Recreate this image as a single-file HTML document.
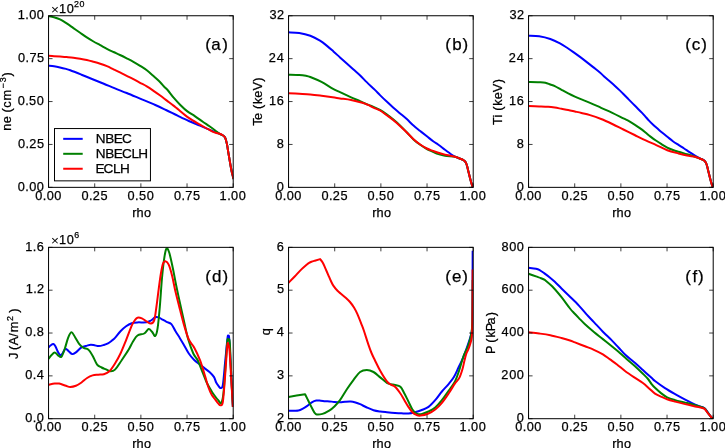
<!DOCTYPE html><html><head><meta charset="utf-8"><title>Plasma profiles</title><style>html,body{margin:0;padding:0;background:#fff;}svg{display:block;will-change:transform;filter:blur(0.35px);}text{font-family:"Liberation Sans",sans-serif;fill:#000;stroke:#000;stroke-width:0.25px;}</style></head><body>
<svg width="725" height="448" viewBox="0 0 725 448">
<rect width="725" height="448" fill="#fff"/>
<defs><clipPath id="cp0"><rect x="48.55" y="15.75" width="184.65" height="171.6"/></clipPath><clipPath id="cp1"><rect x="288.55" y="15.75" width="184.65" height="171.6"/></clipPath><clipPath id="cp2"><rect x="528.55" y="15.75" width="184.65" height="171.6"/></clipPath><clipPath id="cp3"><rect x="48.55" y="247.35" width="184.65" height="171.35"/></clipPath><clipPath id="cp4"><rect x="288.55" y="247.35" width="184.65" height="171.35"/></clipPath><clipPath id="cp5"><rect x="528.55" y="247.35" width="184.65" height="171.35"/></clipPath></defs>
<g clip-path="url(#cp0)" fill="none" stroke-width="2" stroke-linejoin="round" stroke-linecap="butt"><path d="M48.5,65.8C49.42,65.88 52.08,66.03 54,66.3C55.92,66.57 58,66.97 60,67.4C62,67.83 64.28,68.42 66,68.9C67.72,69.38 67.72,69.33 70.3,70.3C72.88,71.27 77.78,73.22 81.5,74.7C85.22,76.18 88.88,77.7 92.6,79.2C96.32,80.7 100.07,82.17 103.8,83.7C107.53,85.23 111.18,86.85 115,88.4C118.82,89.95 122.52,91.3 126.7,93C130.88,94.7 135.33,96.6 140.1,98.6C144.87,100.6 150.98,103.1 155.3,105C159.62,106.9 162.28,108.22 166,110C169.72,111.78 173.8,113.87 177.6,115.7C181.4,117.53 185.07,119.33 188.8,121C192.53,122.67 195.9,123.98 200,125.7C204.1,127.42 210.13,129.95 213.4,131.3C216.67,132.65 217.98,133.1 219.6,133.8C221.22,134.5 222.22,134.92 223.1,135.5C223.98,136.08 224.42,136.52 224.9,137.3C225.38,138.08 225.62,138.85 226,140.2C226.38,141.55 226.82,143.37 227.2,145.4C227.58,147.43 227.92,150.08 228.3,152.4C228.68,154.72 229.1,156.98 229.5,159.3C229.9,161.62 230.32,164.17 230.7,166.3C231.08,168.43 231.42,170.37 231.8,172.1C232.18,173.83 232.7,175.55 233,176.7C233.3,177.85 233.5,178.62 233.6,179" stroke="#0000ff"/><path d="M48.5,16.2C49.42,16.38 52.08,16.78 54,17.3C55.92,17.82 57.88,18.28 60,19.3C62.12,20.32 64.47,21.93 66.7,23.4C68.93,24.87 71.17,26.53 73.4,28.1C75.63,29.67 77.87,31.25 80.1,32.8C82.33,34.35 84.57,35.95 86.8,37.4C89.03,38.85 91.27,40.22 93.5,41.5C95.73,42.78 97.97,43.88 100.2,45.1C102.43,46.32 104.68,47.65 106.9,48.8C109.12,49.95 111.32,50.97 113.5,52C115.68,53.03 117.8,53.95 120,55C122.2,56.05 124.47,57.17 126.7,58.3C128.93,59.43 131.17,60.55 133.4,61.8C135.63,63.05 137.87,64.38 140.1,65.8C142.33,67.22 144.57,68.58 146.8,70.3C149.03,72.02 151.27,74.12 153.5,76.1C155.73,78.08 158.45,80.47 160.2,82.2C161.95,83.93 162.7,85.12 164,86.5C165.3,87.88 166.43,88.68 168,90.5C169.57,92.32 171.38,95.03 173.4,97.4C175.42,99.77 177.77,102.37 180.1,104.7C182.43,107.03 184.95,109.5 187.4,111.4C189.85,113.3 192.23,114.38 194.8,116.1C197.37,117.82 200.35,120 202.8,121.7C205.25,123.4 207.48,124.88 209.5,126.3C211.52,127.72 213.22,128.95 214.9,130.2C216.58,131.45 218.23,132.92 219.6,133.8C220.97,134.68 222.22,134.92 223.1,135.5C223.98,136.08 224.42,136.52 224.9,137.3C225.38,138.08 225.62,138.85 226,140.2C226.38,141.55 226.82,143.37 227.2,145.4C227.58,147.43 227.92,150.08 228.3,152.4C228.68,154.72 229.1,156.98 229.5,159.3C229.9,161.62 230.32,164.17 230.7,166.3C231.08,168.43 231.42,170.37 231.8,172.1C232.18,173.83 232.7,175.55 233,176.7C233.3,177.85 233.5,178.62 233.6,179" stroke="#008000"/><path d="M48.5,55.8C49.42,55.87 52.08,56.07 54,56.2C55.92,56.33 57.88,56.45 60,56.6C62.12,56.75 64.47,56.92 66.7,57.1C68.93,57.28 71.17,57.43 73.4,57.7C75.63,57.97 77.87,58.32 80.1,58.7C82.33,59.08 84.57,59.48 86.8,60C89.03,60.52 91.27,61.17 93.5,61.8C95.73,62.43 97.97,63.07 100.2,63.8C102.43,64.53 104.68,65.28 106.9,66.2C109.12,67.12 111.32,68.27 113.5,69.3C115.68,70.33 117.8,71.32 120,72.4C122.2,73.48 124.47,74.67 126.7,75.8C128.93,76.93 131.17,78.03 133.4,79.2C135.63,80.37 137.87,81.6 140.1,82.8C142.33,84 144.57,85.07 146.8,86.4C149.03,87.73 151.27,89.28 153.5,90.8C155.73,92.32 157.97,93.87 160.2,95.5C162.43,97.13 164.68,98.92 166.9,100.6C169.12,102.28 171.72,104.22 173.5,105.6C175.28,106.98 175.05,106.85 177.6,108.9C180.15,110.95 185.07,115.28 188.8,117.9C192.53,120.52 197.3,123 200,124.6C202.7,126.2 203.38,126.6 205,127.5C206.62,128.4 208.13,129.18 209.7,130C211.27,130.82 212.75,131.77 214.4,132.4C216.05,133.03 218.15,133.28 219.6,133.8C221.05,134.32 222.22,134.92 223.1,135.5C223.98,136.08 224.42,136.52 224.9,137.3C225.38,138.08 225.62,138.85 226,140.2C226.38,141.55 226.82,143.37 227.2,145.4C227.58,147.43 227.92,150.08 228.3,152.4C228.68,154.72 229.1,156.98 229.5,159.3C229.9,161.62 230.32,164.17 230.7,166.3C231.08,168.43 231.42,170.37 231.8,172.1C232.18,173.83 232.7,175.55 233,176.7C233.3,177.85 233.5,178.62 233.6,179" stroke="#ff0000"/></g>
<path d="M48.55,187.35v-4M48.55,15.75v4M48.55,187.35h4M233.2,187.35h-4M94.71,187.35v-4M94.71,15.75v4M48.55,144.45h4M233.2,144.45h-4M140.88,187.35v-4M140.88,15.75v4M48.55,101.55h4M233.2,101.55h-4M187.04,187.35v-4M187.04,15.75v4M48.55,58.65h4M233.2,58.65h-4M233.2,187.35v-4M233.2,15.75v4M48.55,15.75h4M233.2,15.75h-4" stroke="#000" stroke-width="0.75" fill="none"/>
<rect x="48.55" y="15.75" width="184.65" height="171.6" fill="none" stroke="#000" stroke-width="1"/>
<text><tspan x="35.27 42.76 46.72 54.35" y="199.85" font-size="12.72">0.00</tspan></text>
<text><tspan x="81.56 89.05 92.85 100.6" y="199.85" font-size="12.72">0.25</tspan></text>
<text><tspan x="127.6 135.09 139 146.68" y="199.85" font-size="12.72">0.50</tspan></text>
<text><tspan x="173.88 181.38 185.31 192.92" y="199.85" font-size="12.72">0.75</tspan></text>
<text><tspan x="219.59 227.15 231.11 238.74" y="199.85" font-size="12.72">1.00</tspan></text>
<text><tspan x="17.71 25.2 29.15 36.79" y="190.65" font-size="12.72">0.00</tspan></text>
<text><tspan x="17.96 25.45 29.25 37" y="147.75" font-size="12.72">0.25</tspan></text>
<text><tspan x="17.71 25.2 29.11 36.79" y="104.85" font-size="12.72">0.50</tspan></text>
<text><tspan x="17.96 25.45 29.38 37" y="61.95" font-size="12.72">0.75</tspan></text>
<text><tspan x="17.64 25.2 29.15 36.79" y="19.05" font-size="12.72">1.00</tspan></text>
<text><tspan x="132.2 136.62 144.09" y="216.8" font-size="12.72">rho</tspan></text>
<text transform="translate(10.7,101.7) rotate(-90)"><tspan x="-29.16 -21.66 -14.32 -10.74 -5.99 1.21" y="0" font-size="12.72">ne (cm</tspan><tspan x="13.24 19.57" y="-5.2" font-size="8.9">−3</tspan><tspan x="25.25" y="0" font-size="12.72">)</tspan></text>
<text><tspan x="205.34 211.3 222.25" y="50.15" font-size="16.96">(a)</tspan></text>
<text x="50.95" y="13.65" font-size="13.6" style="stroke:none">×</text>
<text><tspan x="58.94 66.64" y="12.65" font-size="12.72">10</tspan><tspan x="74.08 79.54" y="6.65" font-size="8.9">20</tspan></text>
<g clip-path="url(#cp1)" fill="none" stroke-width="2" stroke-linejoin="round" stroke-linecap="butt"><path d="M288.5,32.3C290.28,32.42 295.57,32.42 299.2,33C302.83,33.58 306.83,34.52 310.3,35.8C313.77,37.08 317.27,39.07 320,40.7C322.73,42.33 324.47,43.82 326.7,45.6C328.93,47.38 331.18,49.43 333.4,51.4C335.62,53.37 337.77,55.38 340,57.4C342.23,59.42 344.55,61.48 346.8,63.5C349.05,65.52 351.27,67.5 353.5,69.5C355.73,71.5 357.95,73.35 360.2,75.5C362.45,77.65 364.55,80 367,82.4C369.45,84.8 372.73,87.78 374.9,89.9C377.07,92.02 378.03,93.15 380,95.1C381.97,97.05 384.47,99.5 386.7,101.6C388.93,103.7 391.17,105.73 393.4,107.7C395.63,109.67 397.87,111.5 400.1,113.4C402.33,115.3 404.57,117.07 406.8,119.1C409.03,121.13 411.27,123.62 413.5,125.6C415.73,127.58 417.97,129.22 420.2,131C422.43,132.78 424.68,134.55 426.9,136.3C429.12,138.05 431.58,140.1 433.5,141.5C435.42,142.9 436.48,143.32 438.4,144.7C440.32,146.08 442.77,148.12 445,149.8C447.23,151.48 450.13,153.65 451.8,154.8C453.47,155.95 453.72,156.08 455,156.7C456.28,157.32 458.17,157.98 459.5,158.5C460.83,159.02 462.12,159.35 463,159.8C463.88,160.25 464.27,160.6 464.8,161.2C465.33,161.8 465.82,162.58 466.2,163.4C466.58,164.22 466.73,164.77 467.1,166.1C467.47,167.43 467.97,169.62 468.4,171.4C468.83,173.18 469.25,175.02 469.7,176.8C470.15,178.58 470.65,180.53 471.1,182.1C471.55,183.67 472.08,185.22 472.4,186.2C472.72,187.18 472.9,187.7 473,188" stroke="#0000ff"/><path d="M288.5,74.7C290.28,74.75 296.3,74.82 299.2,75C302.1,75.18 304.05,75.47 305.9,75.8C307.75,76.13 307.7,75.98 310.3,77C312.9,78.02 317.78,79.97 321.5,81.9C325.22,83.83 329.52,86.88 332.6,88.6C335.68,90.32 336.92,90.75 340,92.2C343.08,93.65 347.77,95.8 351.1,97.3C354.43,98.8 357.52,100.1 360,101.2C362.48,102.3 363.83,103 366,103.9C368.17,104.8 370.67,105.6 373,106.6C375.33,107.6 377.72,108.6 380,109.9C382.28,111.2 384.47,112.78 386.7,114.4C388.93,116.02 391.18,117.77 393.4,119.6C395.62,121.43 397.77,123.28 400,125.4C402.23,127.52 404.55,129.97 406.8,132.3C409.05,134.63 411.27,137.32 413.5,139.4C415.73,141.48 417.97,143.2 420.2,144.8C422.43,146.4 424.77,147.83 426.9,149C429.03,150.17 431.08,150.95 433,151.8C434.92,152.65 436.4,153.43 438.4,154.1C440.4,154.77 442.23,155.37 445,155.8C447.77,156.23 452.58,156.25 455,156.7C457.42,157.15 458.17,157.98 459.5,158.5C460.83,159.02 462.12,159.35 463,159.8C463.88,160.25 464.27,160.6 464.8,161.2C465.33,161.8 465.82,162.58 466.2,163.4C466.58,164.22 466.73,164.77 467.1,166.1C467.47,167.43 467.97,169.62 468.4,171.4C468.83,173.18 469.25,175.02 469.7,176.8C470.15,178.58 470.65,180.53 471.1,182.1C471.55,183.67 472.08,185.22 472.4,186.2C472.72,187.18 472.9,187.7 473,188" stroke="#008000"/><path d="M288.5,93.2C290.28,93.3 295.57,93.58 299.2,93.8C302.83,94.02 306.58,94.17 310.3,94.5C314.02,94.83 317.78,95.33 321.5,95.8C325.22,96.27 329.52,96.87 332.6,97.3C335.68,97.73 336.92,97.95 340,98.4C343.08,98.85 347.38,99.27 351.1,100C354.82,100.73 359.48,101.98 362.3,102.8C365.12,103.62 366.15,104.1 368,104.9C369.85,105.7 371.4,106.67 373.4,107.6C375.4,108.53 377.78,109.23 380,110.5C382.22,111.77 384.47,113.58 386.7,115.2C388.93,116.82 391.18,118.42 393.4,120.2C395.62,121.98 397.77,123.85 400,125.9C402.23,127.95 404.55,130.28 406.8,132.5C409.05,134.72 411.27,137.2 413.5,139.2C415.73,141.2 417.97,142.95 420.2,144.5C422.43,146.05 424.77,147.43 426.9,148.5C429.03,149.57 431.08,150.18 433,150.9C434.92,151.62 436.4,152.18 438.4,152.8C440.4,153.42 442.23,153.95 445,154.6C447.77,155.25 452.58,156.05 455,156.7C457.42,157.35 458.17,157.98 459.5,158.5C460.83,159.02 462.12,159.35 463,159.8C463.88,160.25 464.27,160.6 464.8,161.2C465.33,161.8 465.82,162.58 466.2,163.4C466.58,164.22 466.73,164.77 467.1,166.1C467.47,167.43 467.97,169.62 468.4,171.4C468.83,173.18 469.25,175.02 469.7,176.8C470.15,178.58 470.65,180.53 471.1,182.1C471.55,183.67 472.08,185.22 472.4,186.2C472.72,187.18 472.9,187.7 473,188" stroke="#ff0000"/></g>
<path d="M288.55,187.35v-4M288.55,15.75v4M288.55,187.35h4M473.2,187.35h-4M334.71,187.35v-4M334.71,15.75v4M288.55,144.45h4M473.2,144.45h-4M380.88,187.35v-4M380.88,15.75v4M288.55,101.55h4M473.2,101.55h-4M427.04,187.35v-4M427.04,15.75v4M288.55,58.65h4M473.2,58.65h-4M473.2,187.35v-4M473.2,15.75v4M288.55,15.75h4M473.2,15.75h-4" stroke="#000" stroke-width="0.75" fill="none"/>
<rect x="288.55" y="15.75" width="184.65" height="171.6" fill="none" stroke="#000" stroke-width="1"/>
<text><tspan x="275.27 282.76 286.72 294.35" y="199.85" font-size="12.72">0.00</tspan></text>
<text><tspan x="321.56 329.05 332.85 340.6" y="199.85" font-size="12.72">0.25</tspan></text>
<text><tspan x="367.6 375.09 379 386.68" y="199.85" font-size="12.72">0.50</tspan></text>
<text><tspan x="413.88 421.38 425.31 432.92" y="199.85" font-size="12.72">0.75</tspan></text>
<text><tspan x="459.59 467.15 471.11 478.74" y="199.85" font-size="12.72">1.00</tspan></text>
<text><tspan x="276.79" y="190.65" font-size="12.72">0</tspan></text>
<text><tspan x="276.81" y="147.75" font-size="12.72">8</tspan></text>
<text><tspan x="269.05 276.75" y="104.85" font-size="12.72">16</tspan></text>
<text><tspan x="268.87 276.67" y="61.95" font-size="12.72">24</tspan></text>
<text><tspan x="269.58 277.04" y="19.05" font-size="12.72">32</tspan></text>
<text><tspan x="372.2 376.62 384.09" y="216.8" font-size="12.72">rho</tspan></text>
<text transform="translate(262.3,102.05) rotate(-90)"><tspan x="-23.67 -17.98 -10.64 -7.06 -1.9 4.42 11.48 20.38" y="0" font-size="12.72">Te (keV)</tspan></text>
<text><tspan x="445.34 452.18 462.6" y="50.15" font-size="16.96">(b)</tspan></text>
<g clip-path="url(#cp2)" fill="none" stroke-width="2" stroke-linejoin="round" stroke-linecap="butt"><path d="M528.5,35.7C530.28,35.8 535.57,35.75 539.2,36.3C542.83,36.85 546.83,37.82 550.3,39C553.77,40.18 557.27,41.98 560,43.4C562.73,44.82 564.47,46.05 566.7,47.5C568.93,48.95 571.18,50.53 573.4,52.1C575.62,53.67 577.77,55.23 580,56.9C582.23,58.57 584.55,60.35 586.8,62.1C589.05,63.85 591.27,65.62 593.5,67.4C595.73,69.18 598.28,71.15 600.2,72.8C602.12,74.45 603.37,75.85 605,77.3C606.63,78.75 608.33,80.07 610,81.5C611.67,82.93 613.33,84.38 615,85.9C616.67,87.42 618.68,89.33 620,90.6C621.32,91.87 621.5,92.08 622.9,93.5C624.3,94.92 626.38,97.05 628.4,99.1C630.42,101.15 632.77,103.55 635,105.8C637.23,108.05 640.13,110.88 641.8,112.6C643.47,114.32 643.8,114.77 645,116.1C646.2,117.43 647.6,119.12 649,120.6C650.4,122.08 651.98,123.67 653.4,125C654.82,126.33 656.12,127.38 657.5,128.6C658.88,129.82 660.07,130.93 661.7,132.3C663.33,133.67 665.43,135.32 667.3,136.8C669.17,138.28 671.03,139.85 672.9,141.2C674.77,142.55 676.63,143.68 678.5,144.9C680.37,146.12 682.27,147.3 684.1,148.5C685.93,149.7 687.68,150.92 689.5,152.1C691.32,153.28 693.25,154.55 695,155.6C696.75,156.65 698.6,157.68 700,158.4C701.4,159.12 702.6,159.43 703.4,159.9C704.2,160.37 704.33,160.62 704.8,161.2C705.27,161.78 705.82,162.58 706.2,163.4C706.58,164.22 706.73,164.77 707.1,166.1C707.47,167.43 707.97,169.62 708.4,171.4C708.83,173.18 709.25,175.02 709.7,176.8C710.15,178.58 710.65,180.53 711.1,182.1C711.55,183.67 712.08,185.22 712.4,186.2C712.72,187.18 712.9,187.7 713,188" stroke="#0000ff"/><path d="M528.5,82C530.28,82.03 536.38,82.08 539.2,82.2C542.02,82.32 543.55,82.32 545.4,82.7C547.25,83.08 548.73,83.93 550.3,84.5C551.87,85.07 552.93,85.22 554.8,86.1C556.67,86.98 559.27,88.58 561.5,89.8C563.73,91.02 565.97,92.27 568.2,93.4C570.43,94.53 572.68,95.6 574.9,96.6C577.12,97.6 578.98,98.37 581.5,99.4C584.02,100.43 586.73,101.4 590,102.8C593.27,104.2 597.38,106.13 601.1,107.8C604.82,109.47 608.58,111.03 612.3,112.8C616.02,114.57 620.62,117 623.4,118.4C626.18,119.8 627.13,120.17 629,121.2C630.87,122.23 632.73,123.4 634.6,124.6C636.47,125.8 638.38,127.08 640.2,128.4C642.02,129.72 643.78,131.13 645.5,132.5C647.22,133.87 648.83,135.3 650.5,136.6C652.17,137.9 653.67,139.03 655.5,140.3C657.33,141.57 659.53,142.98 661.5,144.2C663.47,145.42 665.38,146.63 667.3,147.6C669.22,148.57 671.13,149.3 673,150C674.87,150.7 676.17,151.08 678.5,151.8C680.83,152.52 684.25,153.48 687,154.3C689.75,155.12 692.92,156 695,156.7C697.08,157.4 698.17,157.98 699.5,158.5C700.83,159.02 702.12,159.35 703,159.8C703.88,160.25 704.27,160.6 704.8,161.2C705.33,161.8 705.82,162.58 706.2,163.4C706.58,164.22 706.73,164.77 707.1,166.1C707.47,167.43 707.97,169.62 708.4,171.4C708.83,173.18 709.25,175.02 709.7,176.8C710.15,178.58 710.65,180.53 711.1,182.1C711.55,183.67 712.08,185.22 712.4,186.2C712.72,187.18 712.9,187.7 713,188" stroke="#008000"/><path d="M528.5,106.1C530.28,106.15 535.93,106.28 539.2,106.4C542.47,106.52 545.5,106.6 548.1,106.8C550.7,107 552.57,107.27 554.8,107.6C557.03,107.93 559.27,108.4 561.5,108.8C563.73,109.2 565.97,109.55 568.2,110C570.43,110.45 572.68,111 574.9,111.5C577.12,112 578.98,112.4 581.5,113C584.02,113.6 586.73,114.1 590,115.1C593.27,116.1 597.38,117.52 601.1,119C604.82,120.48 608.58,122.25 612.3,124C616.02,125.75 619.68,127.67 623.4,129.5C627.12,131.33 630.88,133.18 634.6,135C638.32,136.82 642.1,138.72 645.7,140.4C649.3,142.08 652.6,143.47 656.2,145.1C659.8,146.73 663.58,148.8 667.3,150.2C671.02,151.6 675.22,152.6 678.5,153.5C681.78,154.4 684.25,155.07 687,155.6C689.75,156.13 692.92,156.22 695,156.7C697.08,157.18 698.17,157.98 699.5,158.5C700.83,159.02 702.12,159.35 703,159.8C703.88,160.25 704.27,160.6 704.8,161.2C705.33,161.8 705.82,162.58 706.2,163.4C706.58,164.22 706.73,164.77 707.1,166.1C707.47,167.43 707.97,169.62 708.4,171.4C708.83,173.18 709.25,175.02 709.7,176.8C710.15,178.58 710.65,180.53 711.1,182.1C711.55,183.67 712.08,185.22 712.4,186.2C712.72,187.18 712.9,187.7 713,188" stroke="#ff0000"/></g>
<path d="M528.55,187.35v-4M528.55,15.75v4M528.55,187.35h4M713.2,187.35h-4M574.71,187.35v-4M574.71,15.75v4M528.55,144.45h4M713.2,144.45h-4M620.88,187.35v-4M620.88,15.75v4M528.55,101.55h4M713.2,101.55h-4M667.04,187.35v-4M667.04,15.75v4M528.55,58.65h4M713.2,58.65h-4M713.2,187.35v-4M713.2,15.75v4M528.55,15.75h4M713.2,15.75h-4" stroke="#000" stroke-width="0.75" fill="none"/>
<rect x="528.55" y="15.75" width="184.65" height="171.6" fill="none" stroke="#000" stroke-width="1"/>
<text><tspan x="515.27 522.76 526.72 534.35" y="199.85" font-size="12.72">0.00</tspan></text>
<text><tspan x="561.56 569.05 572.85 580.6" y="199.85" font-size="12.72">0.25</tspan></text>
<text><tspan x="607.6 615.09 619 626.68" y="199.85" font-size="12.72">0.50</tspan></text>
<text><tspan x="653.88 661.38 665.31 672.92" y="199.85" font-size="12.72">0.75</tspan></text>
<text><tspan x="699.59 707.15 711.11 718.74" y="199.85" font-size="12.72">1.00</tspan></text>
<text><tspan x="516.79" y="190.65" font-size="12.72">0</tspan></text>
<text><tspan x="516.81" y="147.75" font-size="12.72">8</tspan></text>
<text><tspan x="509.05 516.75" y="104.85" font-size="12.72">16</tspan></text>
<text><tspan x="508.87 516.67" y="61.95" font-size="12.72">24</tspan></text>
<text><tspan x="509.58 517.04" y="19.05" font-size="12.72">32</tspan></text>
<text><tspan x="612.2 616.62 624.09" y="216.8" font-size="12.72">rho</tspan></text>
<text transform="translate(502.3,102.55) rotate(-90)"><tspan x="-22.48 -15.04 -11.82 -8.25 -3.08 3.23 10.3 19.19" y="0" font-size="12.72">Ti (keV)</tspan></text>
<text><tspan x="685.34 691.68 701.24" y="50.15" font-size="16.96">(c)</tspan></text>
<g clip-path="url(#cp3)" fill="none" stroke-width="2" stroke-linejoin="round" stroke-linecap="butt"><path d="M48.5,347.5C48.83,347.17 49.68,346.07 50.5,345.5C51.32,344.93 52.57,343.93 53.4,344.1C54.23,344.27 54.73,345.18 55.5,346.5C56.27,347.82 57.2,350.53 58,352C58.8,353.47 59.55,355.05 60.3,355.3C61.05,355.55 61.65,354.58 62.5,353.5C63.35,352.42 64.4,349.22 65.4,348.8C66.4,348.38 67.38,350.12 68.5,351C69.62,351.88 70.87,353.87 72.1,354.1C73.33,354.33 74.33,353.52 75.9,352.4C77.47,351.28 79.63,348.53 81.5,347.4C83.37,346.27 85.55,346.03 87.1,345.6C88.65,345.17 89.57,344.85 90.8,344.8C92.03,344.75 93.15,345.08 94.5,345.3C95.85,345.52 97.35,346.15 98.9,346.1C100.45,346.05 102.28,345.45 103.8,345C105.32,344.55 106.63,344.15 108,343.4C109.37,342.65 110.83,341.42 112,340.5C113.17,339.58 113.58,339.45 115,337.9C116.42,336.35 118.65,333.14 120.5,331.2C122.35,329.26 124.23,327.57 126.1,326.25C127.97,324.93 129.83,323.94 131.7,323.3C133.57,322.66 134.85,322.57 137.3,322.4C139.75,322.23 144.13,322.62 146.4,322.3C148.67,321.98 149.42,321.33 150.9,320.5C152.38,319.67 154,317.82 155.3,317.3C156.6,316.78 157.58,317.07 158.7,317.4C159.82,317.73 160.7,318.57 162,319.3C163.3,320.03 164.93,321 166.5,321.8C168.07,322.6 169.92,322.57 171.4,324.1C172.88,325.63 173.98,328.65 175.4,331C176.82,333.35 178.55,336 179.9,338.2C181.25,340.4 182.02,341.65 183.5,344.2C184.98,346.75 187.02,350.87 188.8,353.5C190.58,356.13 192.33,358.15 194.2,360C196.07,361.85 198.2,363.17 200,364.6C201.8,366.03 203.42,367.37 205,368.6C206.58,369.83 208.02,370.62 209.5,372C210.98,373.38 212.78,375.15 213.9,376.9C215.02,378.65 215.45,381.02 216.2,382.5C216.95,383.98 217.67,384.87 218.4,385.8C219.13,386.73 219.85,388.28 220.6,388.1C221.35,387.92 222.15,388.98 222.9,384.7C223.65,380.42 224.33,370.18 225.1,362.4C225.87,354.62 226.97,342.32 227.5,338C228.03,333.68 228,336.25 228.3,336.5C228.6,336.75 228.8,332.95 229.3,339.5C229.8,346.05 230.7,364.55 231.3,375.8C231.9,387.05 232.63,401.8 232.9,407" stroke="#0000ff"/><path d="M48.5,359C48.97,358.38 50.27,356.4 51.3,355.3C52.33,354.2 53.58,352.4 54.7,352.4C55.82,352.4 56.88,354.57 58,355.3C59.12,356.03 60.28,357.85 61.4,356.8C62.52,355.75 63.58,352.15 64.7,349C65.82,345.85 66.98,340.68 68.1,337.9C69.22,335.12 70.28,332.5 71.4,332.3C72.52,332.1 73.48,334.73 74.8,336.7C76.12,338.67 77.82,342.23 79.3,344.1C80.78,345.97 82.22,347 83.7,347.9C85.18,348.8 86.72,348.2 88.2,349.5C89.68,350.8 91.12,353.18 92.6,355.7C94.08,358.22 95.6,362.63 97.1,364.6C98.6,366.57 100.12,366.7 101.6,367.5C103.08,368.3 104.52,368.77 106,369.4C107.48,370.03 109,371.27 110.5,371.3C112,371.33 113.13,371.45 115,369.6C116.87,367.75 119.47,363.45 121.7,360.2C123.93,356.95 126.52,353.22 128.4,350.1C130.28,346.98 131.48,343.93 133,341.5C134.52,339.07 135.63,336.83 137.5,335.5C139.37,334.17 142.35,334.57 144.2,333.5C146.05,332.43 147.3,329.38 148.6,329.1C149.9,328.82 150.88,330.65 152,331.8C153.12,332.95 154.37,336.6 155.3,336C156.23,335.4 156.85,333.03 157.6,328.2C158.35,323.37 159.07,315.37 159.8,307C160.53,298.63 161.25,286.18 162,278C162.75,269.82 163.55,262.82 164.3,257.9C165.05,252.98 165.68,249.4 166.5,248.5C167.32,247.6 168.15,249.25 169.2,252.5C170.25,255.75 171.63,262.5 172.8,268C173.97,273.5 174.93,279.33 176.2,285.5C177.47,291.67 179.02,298.67 180.4,305C181.78,311.33 183.25,317.97 184.5,323.5C185.75,329.03 186.43,333.2 187.9,338.2C189.37,343.2 191.67,349.83 193.3,353.5C194.93,357.17 196.22,357.23 197.7,360.2C199.18,363.17 200.7,367.58 202.2,371.3C203.7,375.02 205.12,379.15 206.7,382.5C208.28,385.85 210.22,388.98 211.7,391.4C213.18,393.82 214.48,395.5 215.6,397C216.72,398.5 217.47,399.37 218.4,400.4C219.33,401.43 220.37,404.32 221.2,403.2C222.03,402.08 222.67,400.13 223.4,393.7C224.13,387.27 224.95,373.35 225.6,364.6C226.25,355.85 226.83,345.28 227.3,341.2C227.77,337.12 227.98,339.8 228.4,340.1C228.82,340.4 229.32,336.85 229.8,343C230.28,349.15 230.78,366.33 231.3,377C231.82,387.67 232.63,402 232.9,407" stroke="#008000"/><path d="M48.5,384.7C49.53,384.52 52.92,383.78 54.7,383.6C56.48,383.42 57.33,383.23 59.2,383.6C61.07,383.97 64.05,385.23 65.9,385.8C67.75,386.37 68.63,387 70.3,387C71.97,387 74.03,386.55 75.9,385.8C77.77,385.05 79.63,383.8 81.5,382.5C83.37,381.2 85.25,379.18 87.1,378C88.95,376.82 90.75,375.95 92.6,375.4C94.45,374.85 96.33,374.9 98.2,374.7C100.07,374.5 101.93,374.77 103.8,374.2C105.67,373.63 107.53,373.08 109.4,371.3C111.27,369.52 113.15,366.47 115,363.5C116.85,360.53 118.65,357.4 120.5,353.5C122.35,349.6 124.23,344.75 126.1,340.1C127.97,335.45 130.22,328.95 131.7,325.6C133.18,322.25 134.03,321.32 135,320C135.97,318.68 136.35,317.97 137.5,317.7C138.65,317.43 140.42,317.8 141.9,318.4C143.38,319 144.9,320.45 146.4,321.3C147.9,322.15 149.6,323.65 150.9,323.5C152.2,323.35 153.28,323.15 154.2,320.4C155.12,317.65 155.65,312.22 156.4,307C157.15,301.78 157.95,294.68 158.7,289.1C159.45,283.52 160.17,277.78 160.9,273.5C161.63,269.22 162.35,265.45 163.1,263.4C163.85,261.35 164.47,261 165.4,261.2C166.33,261.4 167.58,262.18 168.7,264.6C169.82,267.02 170.98,271.25 172.1,275.7C173.22,280.15 174.1,285.72 175.4,291.3C176.7,296.88 178.42,303.43 179.9,309.2C181.38,314.97 182.82,320.85 184.3,325.9C185.78,330.95 187.12,335.83 188.8,339.5C190.48,343.17 192.53,344.45 194.4,347.9C196.27,351.35 198.23,355.55 200,360.2C201.77,364.85 203.62,371.33 205,375.8C206.38,380.27 207.18,383.83 208.3,387C209.42,390.17 210.58,392.77 211.7,394.8C212.82,396.83 213.88,397.72 215,399.2C216.12,400.68 217.47,402.68 218.4,403.7C219.33,404.72 219.85,405.67 220.6,405.3C221.35,404.93 222.15,406.42 222.9,401.5C223.65,396.58 224.37,385.1 225.1,375.8C225.83,366.5 226.75,350.9 227.3,345.7C227.85,340.5 228.02,343.68 228.4,344.6C228.78,345.53 229.12,345.3 229.6,351.25C230.08,357.2 230.75,371.01 231.3,380.3C231.85,389.59 232.63,402.55 232.9,407" stroke="#ff0000"/></g>
<path d="M48.55,418.7v-4M48.55,247.35v4M48.55,418.7h4M233.2,418.7h-4M94.71,418.7v-4M94.71,247.35v4M48.55,375.86h4M233.2,375.86h-4M140.88,418.7v-4M140.88,247.35v4M48.55,333.02h4M233.2,333.02h-4M187.04,418.7v-4M187.04,247.35v4M48.55,290.19h4M233.2,290.19h-4M233.2,418.7v-4M233.2,247.35v4M48.55,247.35h4M233.2,247.35h-4" stroke="#000" stroke-width="0.75" fill="none"/>
<rect x="48.55" y="247.35" width="184.65" height="171.35" fill="none" stroke="#000" stroke-width="1"/>
<text><tspan x="35.27 42.76 46.72 54.35" y="431.2" font-size="12.72">0.00</tspan></text>
<text><tspan x="81.56 89.05 92.85 100.6" y="431.2" font-size="12.72">0.25</tspan></text>
<text><tspan x="127.6 135.09 139 146.68" y="431.2" font-size="12.72">0.50</tspan></text>
<text><tspan x="173.88 181.38 185.31 192.92" y="431.2" font-size="12.72">0.75</tspan></text>
<text><tspan x="219.59 227.15 231.11 238.74" y="431.2" font-size="12.72">1.00</tspan></text>
<text><tspan x="25.34 32.83 36.79" y="422" font-size="12.72">0.0</tspan></text>
<text><tspan x="25.22 32.71 36.67" y="379.16" font-size="12.72">0.4</tspan></text>
<text><tspan x="25.36 32.86 36.81" y="336.32" font-size="12.72">0.8</tspan></text>
<text><tspan x="25.68 33.24 37.04" y="293.49" font-size="12.72">1.2</tspan></text>
<text><tspan x="25.23 32.79 36.75" y="250.65" font-size="12.72">1.6</tspan></text>
<text><tspan x="132.2 136.62 144.09" y="448.15" font-size="12.72">rho</tspan></text>
<text transform="translate(17.7,333.67) rotate(-90)"><tspan x="-25.42 -19.8 -16.22 -11.58 -2.98 1.39" y="0" font-size="12.72">J (A/m</tspan><tspan x="12.58" y="-5.2" font-size="8.9">2</tspan><tspan x="17.94" y="0" font-size="8.69"> </tspan><tspan x="20.99" y="0" font-size="12.72">)</tspan></text>
<text><tspan x="205.34 211.98 222.6" y="281.75" font-size="16.96">(d)</tspan></text>
<text x="50.95" y="245.25" font-size="13.6" style="stroke:none">×</text>
<text><tspan x="58.94 66.64" y="244.25" font-size="12.72">10</tspan><tspan x="74.2" y="238.25" font-size="8.9">6</tspan></text>
<g clip-path="url(#cp4)" fill="none" stroke-width="2" stroke-linejoin="round" stroke-linecap="butt"><path d="M288.5,410.8C290.15,410.73 296,410.77 298.4,410.4C300.8,410.03 301.42,409.35 302.9,408.6C304.38,407.85 305.82,406.95 307.3,405.9C308.78,404.85 310.31,403.2 311.8,402.3C313.29,401.4 314.77,400.77 316.25,400.5C317.73,400.23 319.21,400.57 320.7,400.7C322.19,400.82 323.72,401.13 325.2,401.25C326.68,401.37 328.12,401.29 329.6,401.4C331.08,401.51 332.37,401.77 334.1,401.9C335.83,402.03 338.18,402.23 340,402.2C341.82,402.17 343.22,401.82 345,401.7C346.78,401.58 348.95,401.37 350.7,401.5C352.45,401.63 353.93,402.05 355.5,402.5C357.07,402.95 358.22,403.37 360.1,404.2C361.98,405.03 364.57,406.5 366.8,407.5C369.03,408.5 371.27,409.53 373.5,410.2C375.73,410.87 377.97,411.17 380.2,411.5C382.43,411.83 384.43,411.97 386.9,412.2C389.37,412.43 392.57,412.72 395,412.9C397.43,413.08 399.27,413.2 401.5,413.3C403.73,413.4 406.13,413.68 408.4,413.5C410.67,413.32 412.87,412.78 415.1,412.2C417.33,411.62 419.57,410.88 421.8,410C424.03,409.12 426.27,408.53 428.5,406.9C430.73,405.27 432.97,402.77 435.2,400.2C437.43,397.63 439.67,394.18 441.9,391.5C444.13,388.82 446.6,386.52 448.6,384.1C450.6,381.68 452.25,379.77 453.9,377C455.55,374.23 457,370.63 458.5,367.5C460,364.37 461.28,362.13 462.9,358.2C464.52,354.27 466.72,348.37 468.2,343.9C469.68,339.43 471.11,335.27 471.8,331.4C472.49,327.53 472.23,327.6 472.35,320.7C472.48,313.8 472.5,301.65 472.55,290C472.6,278.35 472.63,257.33 472.65,250.8" stroke="#0000ff"/><path d="M288.5,397L296.6,395.6L305.1,394.3C305.62,395.33 307.08,398.27 308.2,400.5C309.32,402.73 310.53,405.43 311.8,407.7C313.07,409.97 314.02,413.07 315.8,414.1C317.58,415.13 320.2,414.52 322.5,413.9C324.8,413.28 327.67,411.58 329.6,410.4C331.53,409.22 332.37,408.5 334.1,406.8C335.83,405.1 337.9,403.08 340,400.2C342.1,397.32 344.47,392.85 346.7,389.5C348.93,386.15 351.17,383.02 353.4,380.1C355.63,377.18 357.87,373.68 360.1,372C362.33,370.32 364.57,370 366.8,370C369.03,370 371.27,370.77 373.5,372C375.73,373.23 377.97,375.6 380.2,377.4C382.43,379.2 385.1,381.65 386.9,382.8C388.7,383.95 389.65,383.95 391,384.3C392.35,384.65 393.43,384.48 395,384.9C396.57,385.32 398.83,385.37 400.4,386.8C401.97,388.23 403.07,391.05 404.4,393.5C405.73,395.95 407.07,398.83 408.4,401.5C409.73,404.17 411.07,407.5 412.4,409.5C413.73,411.5 415.28,412.72 416.4,413.5C417.52,414.28 418.17,414.12 419.1,414.2C420.03,414.28 420.43,414.45 422,414C423.57,413.55 426.3,412.58 428.5,411.5C430.7,410.42 432.97,409.38 435.2,407.5C437.43,405.62 439.67,402.98 441.9,400.2C444.13,397.42 446.42,393.93 448.6,390.8C450.78,387.67 453.27,384.7 455,381.4C456.73,378.1 457.6,375.15 459,371C460.4,366.85 461.87,360.75 463.4,356.5C464.93,352.25 466.85,349.42 468.2,345.5C469.55,341.58 470.81,337.25 471.5,333C472.19,328.75 472.18,325.5 472.35,320C472.53,314.5 472.5,306.67 472.55,300C472.6,293.33 472.63,283.33 472.65,280" stroke="#008000"/><path d="M288.5,282.8C289.53,281.75 292.55,278.73 294.7,276.5C296.85,274.27 299.17,271.58 301.4,269.4C303.63,267.22 306.98,264.4 308.1,263.4C308.65,263.13 310.28,262.25 311.4,261.8C312.52,261.35 314.23,260.88 314.8,260.7L320.1,259.1C320.55,259.7 321.9,261.1 322.8,262.7C323.7,264.3 324.6,266.68 325.5,268.7C326.4,270.72 327.32,272.78 328.2,274.8C329.08,276.82 329.92,278.95 330.8,280.8C331.68,282.65 332.38,284.23 333.5,285.9C334.62,287.57 336.17,289.42 337.5,290.8C338.83,292.18 340.08,293 341.5,294.2C342.92,295.4 344.58,296.7 346,298C347.42,299.3 348.67,300.42 350,302C351.33,303.58 352.8,305.55 354,307.5C355.2,309.45 355.92,310.82 357.2,313.7C358.48,316.58 360.57,321.92 361.7,324.8C362.83,327.68 362.88,327.7 364,331C365.12,334.3 367.15,340.93 368.4,344.6C369.65,348.27 370.43,350.43 371.5,353C372.57,355.57 373.35,357.05 374.8,360C376.25,362.95 378.18,367.13 380.2,370.7C382.22,374.27 385.18,379.1 386.9,381.4C388.62,383.7 389.15,383.6 390.5,384.5C391.85,385.4 393.35,385.3 395,386.8C396.65,388.3 398.83,391.27 400.4,393.5C401.97,395.73 403.07,397.97 404.4,400.2C405.73,402.43 407.07,404.9 408.4,406.9C409.73,408.9 411.07,410.87 412.4,412.2C413.73,413.53 415.07,414.33 416.4,414.9C417.73,415.47 418.38,415.83 420.4,415.6C422.42,415.37 426.03,414.52 428.5,413.5C430.97,412.48 432.97,411.28 435.2,409.5C437.43,407.72 439.67,405.47 441.9,402.8C444.13,400.13 446.42,396.73 448.6,393.5C450.78,390.27 453.22,386 455,383.4C456.78,380.8 458.05,380.3 459.3,377.9C460.55,375.5 461.62,371.98 462.5,369C463.38,366.02 463.95,362.58 464.6,360C465.25,357.42 465.75,355.33 466.4,353.5C467.05,351.67 467.82,350.75 468.5,349C469.18,347.25 469.95,345.03 470.5,343C471.05,340.97 471.49,339.92 471.8,336.8C472.11,333.68 472.23,330.43 472.35,324.3C472.48,318.17 472.5,309.12 472.55,300C472.6,290.88 472.63,274.67 472.65,269.6" stroke="#ff0000"/></g>
<path d="M288.55,418.7v-4M288.55,247.35v4M288.55,418.7h4M473.2,418.7h-4M334.71,418.7v-4M334.71,247.35v4M288.55,375.86h4M473.2,375.86h-4M380.88,418.7v-4M380.88,247.35v4M288.55,333.02h4M473.2,333.02h-4M427.04,418.7v-4M427.04,247.35v4M288.55,290.19h4M473.2,290.19h-4M473.2,418.7v-4M473.2,247.35v4M288.55,247.35h4M473.2,247.35h-4" stroke="#000" stroke-width="0.75" fill="none"/>
<rect x="288.55" y="247.35" width="184.65" height="171.35" fill="none" stroke="#000" stroke-width="1"/>
<text><tspan x="275.27 282.76 286.72 294.35" y="431.2" font-size="12.72">0.00</tspan></text>
<text><tspan x="321.56 329.05 332.85 340.6" y="431.2" font-size="12.72">0.25</tspan></text>
<text><tspan x="367.6 375.09 379 386.68" y="431.2" font-size="12.72">0.50</tspan></text>
<text><tspan x="413.88 421.38 425.31 432.92" y="431.2" font-size="12.72">0.75</tspan></text>
<text><tspan x="459.59 467.15 471.11 478.74" y="431.2" font-size="12.72">1.00</tspan></text>
<text><tspan x="277.04" y="422" font-size="12.72">2</tspan></text>
<text><tspan x="276.97" y="379.16" font-size="12.72">3</tspan></text>
<text><tspan x="276.67" y="336.32" font-size="12.72">4</tspan></text>
<text><tspan x="277" y="293.49" font-size="12.72">5</tspan></text>
<text><tspan x="276.75" y="250.65" font-size="12.72">6</tspan></text>
<text><tspan x="372.2 376.62 384.09" y="448.15" font-size="12.72">rho</tspan></text>
<text transform="translate(269.5,331.92) rotate(-90)"><tspan x="-3.4" y="0" font-size="12.72">q</tspan></text>
<text><tspan x="445.34 451.96 462.29" y="281.75" font-size="16.96">(e)</tspan></text>
<g clip-path="url(#cp5)" fill="none" stroke-width="2" stroke-linejoin="round" stroke-linecap="butt"><path d="M528.5,267.7C529.75,267.87 534.08,268.27 536,268.7C537.92,269.13 538.65,269.57 540,270.3C541.35,271.03 542.52,271.95 544.1,273.1C545.68,274.25 547.72,275.75 549.5,277.2C551.28,278.65 552.8,279.92 554.8,281.8C556.8,283.68 558.97,286.02 561.5,288.5C564.03,290.98 567.1,293.85 570,296.7C572.9,299.55 576.1,302.6 578.9,305.6C581.7,308.6 584.3,311.95 586.8,314.7C589.3,317.45 591.22,319.27 593.9,322.1C596.58,324.93 599.92,328.65 602.9,331.7C605.88,334.75 609.2,337.77 611.8,340.4C614.4,343.03 616.3,345.15 618.5,347.5C620.7,349.85 622.43,352.07 625,354.5C627.57,356.93 630.92,359.5 633.9,362.1C636.88,364.7 639.92,367.43 642.9,370.1C645.88,372.77 649.78,376.28 651.8,378.1C653.82,379.92 652.8,379.33 655,381C657.2,382.67 661.65,385.92 665,388.1C668.35,390.28 671.73,392.18 675.1,394.1C678.47,396.02 681.85,397.85 685.2,399.6C688.55,401.35 692.73,403.45 695.2,404.6C697.67,405.75 698.67,406.02 700,406.5C701.33,406.98 702.32,407.1 703.2,407.5C704.08,407.9 704.45,407.95 705.3,408.9C706.15,409.85 707.3,411.82 708.3,413.2C709.3,414.58 710.52,416.28 711.3,417.2C712.08,418.12 712.72,418.45 713,418.7" stroke="#0000ff"/><path d="M528.5,273.7C529.75,274.15 533.92,275.65 536,276.4C538.08,277.15 539.55,277.63 541,278.2C542.45,278.77 544.08,279.53 544.7,279.8C545.93,280.88 549.3,283.4 552.1,286.3C554.9,289.2 558.52,293.5 561.5,297.2C564.48,300.9 567.83,305.78 570,308.5C572.17,311.22 573.02,311.9 574.5,313.5C575.98,315.1 577.15,316.3 578.9,318.1C580.65,319.9 582.5,321.98 585,324.3C587.5,326.62 590.92,329.53 593.9,332C596.88,334.47 599.92,336.73 602.9,339.1C605.88,341.48 609.2,344.13 611.8,346.25C614.4,348.37 616.3,349.91 618.5,351.8C620.7,353.69 622.43,355.37 625,357.6C627.57,359.83 630.92,362.52 633.9,365.2C636.88,367.88 640.55,371.4 642.9,373.7C645.25,376 646.52,377.22 648,379C649.48,380.78 650.63,382.93 651.8,384.4C652.97,385.87 653.47,386.35 655,387.8C656.53,389.25 658.98,391.52 661,393.1C663.02,394.68 664.75,396.13 667.1,397.3C669.45,398.47 672.08,399.22 675.1,400.1C678.12,400.98 681.85,401.75 685.2,402.6C688.55,403.45 692.2,404.35 695.2,405.2C698.2,406.05 701.52,407.03 703.2,407.7C704.88,408.37 704.45,408.25 705.3,409.2C706.15,410.15 707.27,412.03 708.3,413.4C709.33,414.77 710.72,416.52 711.5,417.4C712.28,418.28 712.75,418.48 713,418.7" stroke="#008000"/><path d="M528.5,332.3C530.28,332.5 535.57,333.02 539.2,333.5C542.83,333.98 546.58,334.45 550.3,335.2C554.02,335.95 558.22,337.12 561.5,338C564.78,338.88 567.75,339.77 570,340.5C572.25,341.23 572.5,341.43 575,342.4C577.5,343.37 581.85,345.07 585,346.3C588.15,347.53 590.92,348.47 593.9,349.8C596.88,351.13 600.22,352.7 602.9,354.3C605.58,355.9 607.65,357.7 610,359.4C612.35,361.1 614.5,362.57 617,364.5C619.5,366.43 622.18,368.88 625,371C627.82,373.12 630.92,375.2 633.9,377.2C636.88,379.2 640.37,381.13 642.9,383C645.43,384.87 647.08,386.63 649.1,388.4C651.12,390.17 653.02,392.23 655,393.6C656.98,394.97 658.98,395.65 661,396.6C663.02,397.55 664.75,398.47 667.1,399.3C669.45,400.13 672.08,400.8 675.1,401.6C678.12,402.4 681.85,403.3 685.2,404.1C688.55,404.9 692.2,405.72 695.2,406.4C698.2,407.08 701.52,407.65 703.2,408.2C704.88,408.75 704.45,408.78 705.3,409.7C706.15,410.62 707.22,412.37 708.3,413.7C709.38,415.03 711.02,416.87 711.8,417.7C712.58,418.53 712.8,418.53 713,418.7" stroke="#ff0000"/></g>
<path d="M528.55,418.7v-4M528.55,247.35v4M528.55,418.7h4M713.2,418.7h-4M574.71,418.7v-4M574.71,247.35v4M528.55,375.86h4M713.2,375.86h-4M620.88,418.7v-4M620.88,247.35v4M528.55,333.02h4M713.2,333.02h-4M667.04,418.7v-4M667.04,247.35v4M528.55,290.19h4M713.2,290.19h-4M713.2,418.7v-4M713.2,247.35v4M528.55,247.35h4M713.2,247.35h-4" stroke="#000" stroke-width="0.75" fill="none"/>
<rect x="528.55" y="247.35" width="184.65" height="171.35" fill="none" stroke="#000" stroke-width="1"/>
<text><tspan x="515.27 522.76 526.72 534.35" y="431.2" font-size="12.72">0.00</tspan></text>
<text><tspan x="561.56 569.05 572.85 580.6" y="431.2" font-size="12.72">0.25</tspan></text>
<text><tspan x="607.6 615.09 619 626.68" y="431.2" font-size="12.72">0.50</tspan></text>
<text><tspan x="653.88 661.38 665.31 672.92" y="431.2" font-size="12.72">0.75</tspan></text>
<text><tspan x="699.59 707.15 711.11 718.74" y="431.2" font-size="12.72">1.00</tspan></text>
<text><tspan x="516.79" y="422" font-size="12.72">0</tspan></text>
<text><tspan x="501.36 509.15 516.79" y="379.16" font-size="12.72">200</tspan></text>
<text><tspan x="501.52 509.15 516.79" y="336.32" font-size="12.72">400</tspan></text>
<text><tspan x="501.52 509.15 516.79" y="293.49" font-size="12.72">600</tspan></text>
<text><tspan x="501.52 509.15 516.79" y="250.65" font-size="12.72">800</tspan></text>
<text><tspan x="612.2 616.62 624.09" y="448.15" font-size="12.72">rho</tspan></text>
<text transform="translate(494.8,332.82) rotate(-90)"><tspan x="-21.21 -13.4 -9.83 -4.66 1.47 8.28 16.5" y="0" font-size="12.72">P (kPa)</tspan></text>
<text><tspan x="685.34 692.38 698.08" y="281.75" font-size="16.96">(f)</tspan></text>
<rect x="54.5" y="128.55" width="95.95" height="52.3" fill="#fff" stroke="#000" stroke-width="1"/>
<path d="M63.2,138.85H82.7" stroke="#0000ff" stroke-width="2"/>
<text><tspan x="95.83 105.36 113.77 121.88" y="143.15" font-size="13.57">NBEC</tspan></text>
<path d="M63.2,153.8H82.7" stroke="#008000" stroke-width="2"/>
<text><tspan x="95.83 105.36 113.77 121.88 131.38 138.37" y="158.1" font-size="13.57">NBECLH</tspan></text>
<path d="M63.2,168.75H82.7" stroke="#ff0000" stroke-width="2"/>
<text><tspan x="95.42 103.53 113.02 120.01" y="173.05" font-size="13.57">ECLH</tspan></text>
</svg></body></html>
